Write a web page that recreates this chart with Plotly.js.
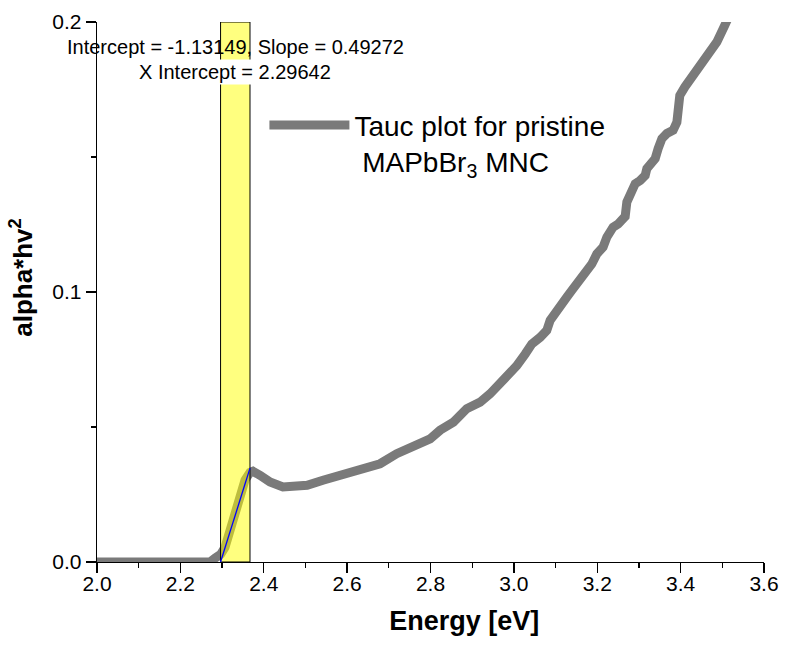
<!DOCTYPE html>
<html>
<head>
<meta charset="utf-8">
<script src="https://cdn.plot.ly/plotly-3.0.1.min.js"></script>
<style>html,body{margin:0;padding:0;background:#fff;}#chart{width:785px;height:648px;}</style>
</head>
<body>
<div id="chart"></div>
<script>
// Tauc plot data
var energy = [2.0, 2.271, 2.283, 2.297, 2.307, 2.324, 2.338, 2.355, 2.367, 2.374, 2.391, 2.415, 2.446, 2.480, 2.504, 2.542, 2.583, 2.624,
  2.679, 2.719, 2.759, 2.799, 2.823, 2.855, 2.887, 2.919, 2.943, 2.975, 2.991, 3.007, 3.027, 3.043, 3.063, 3.079, 3.087, 3.099,
  3.115, 3.127, 3.139, 3.159, 3.175, 3.187, 3.199, 3.214, 3.223, 3.238, 3.250, 3.267, 3.271, 3.279, 3.291, 3.303, 3.315, 3.319,
  3.327, 3.339, 3.346, 3.355, 3.367, 3.382, 3.391, 3.394, 3.398, 3.410, 3.427, 3.442, 3.463, 3.487, 3.506, 3.520];
var tauc = [0.0, 0.0, 0.0014, 0.0029, 0.0054, 0.0143, 0.0229, 0.0303, 0.0332, 0.0336, 0.0321, 0.0296, 0.0278, 0.0277, 0.0284, 0.0303, 0.0321, 0.0340,
  0.0364, 0.0401, 0.0432, 0.0456, 0.0488, 0.0518, 0.0568, 0.0592, 0.0623, 0.0673, 0.0707, 0.0727, 0.0770, 0.0807, 0.0832, 0.0858, 0.0895, 0.0919,
  0.0944, 0.0981, 0.1006, 0.1043, 0.1080, 0.1104, 0.1141, 0.1166, 0.1203, 0.1240, 0.1252, 0.1280, 0.1333, 0.1370, 0.1401, 0.1413, 0.1432, 0.1457,
  0.1475, 0.1494, 0.1531, 0.1568, 0.1587, 0.1599, 0.1629, 0.1679, 0.1728, 0.1759, 0.1796, 0.1827, 0.1864, 0.1926, 0.1988, 0.2035];

// Linear fit parameters and fit window
var fitIntercept = -1.13149;
var fitSlope = 0.49272;
var xIntercept = 2.29642;
var fitRange = [2.29642, 2.367];
var fitY = [fitIntercept + fitSlope * fitRange[0], fitIntercept + fitSlope * fitRange[1]];

var xTicks = [2.0, 2.2, 2.4, 2.6, 2.8, 3.0, 3.2, 3.4, 3.6];
var yTicks = [0.0, 0.1, 0.2];

var seriesName = 'Tauc plot for pristine<br>&nbsp;MAPbBr<sub>3</sub> MNC';
var fitLabel1 = 'Intercept = ' + fitIntercept + ', Slope = ' + fitSlope;
var fitLabel2 = 'X Intercept = ' + xIntercept;
var xTitle = '<b>Energy [eV]</b>';
var yTitle = '<b>alpha*hv<sup>2</sup></b>';

var FONT = 'Arial, "Liberation Sans", Helvetica, sans-serif';

var traces = [{
  x: energy, y: tauc, type: 'scatter', mode: 'lines',
  name: seriesName,
  line: {color: '#7a7a7a', width: 9},
  showlegend: true
}];

var layout = {
  width: 785, height: 648,
  margin: {l: 97, r: 21, t: 22, b: 86},
  paper_bgcolor: '#ffffff', plot_bgcolor: '#ffffff',
  font: {family: FONT, color: '#000'},
  showlegend: true,
  legend: {
    x: 0.251, y: 0.855, xanchor: 'left', yanchor: 'top',
    bgcolor: 'rgba(0,0,0,0)', borderwidth: 0,
    font: {family: FONT, size: 28, color: '#000'},
    itemwidth: 80, valign: 'top', tracegroupgap: 0
  },
  xaxis: {
    range: [2.0, 3.6], tickvals: xTicks, tickformat: '.1f',
    showline: true, linecolor: '#000', linewidth: 1.3, mirror: false,
    ticks: 'outside', ticklen: 10, tickwidth: 1.3, tickcolor: '#000',
    ticklabelstandoff: -8,
    minor: {dtick: 0.1, tick0: 2.0, ticks: 'outside', ticklen: 5, tickwidth: 1.3, tickcolor: '#000', showgrid: false},
    showgrid: false, zeroline: false,
    tickfont: {family: FONT, size: 21, color: '#000'},
    title: {text: '&nbsp;&nbsp;&nbsp;&nbsp;&nbsp;&nbsp;&nbsp;&nbsp;&nbsp;' + xTitle, font: {family: FONT, size: 27, color: '#000'}, standoff: 17}
  },
  yaxis: {
    range: [0, 0.2], tickvals: yTicks, tickformat: '.1f',
    showline: true, linecolor: '#000', linewidth: 1.3, mirror: false,
    ticks: 'outside', ticklen: 10, tickwidth: 1.3, tickcolor: '#000',
    minor: {dtick: 0.05, tick0: 0, ticks: 'outside', ticklen: 5, tickwidth: 1.3, tickcolor: '#000', showgrid: false},
    showgrid: false, zeroline: false,
    tickfont: {family: FONT, size: 21, color: '#000'},
    title: {text: '&nbsp;&nbsp;&nbsp;&nbsp;' + yTitle, font: {family: FONT, size: 26, color: '#000'}, standoff: 12}
  },
  shapes: [
    {type: 'rect', xref: 'x', yref: 'y', x0: fitRange[0], x1: fitRange[1], y0: 0, y1: 0.2,
     fillcolor: 'rgba(255,255,0,0.5)', line: {color: '#000', width: 1}, layer: 'above'},
    {type: 'line', xref: 'x', yref: 'y', x0: fitRange[0], x1: fitRange[1], y0: fitY[0], y1: fitY[1],
     line: {color: '#0000ff', width: 1.3}, layer: 'above'}
  ],
  annotations: [
    {xref: 'paper', yref: 'paper', x: 0.207, y: 0.953, xanchor: 'center', yanchor: 'middle',
     text: fitLabel1, showarrow: false, font: {family: FONT, size: 20, color: '#000'}},
    {xref: 'paper', yref: 'paper', x: 0.207, y: 0.907, xanchor: 'center', yanchor: 'middle',
     text: fitLabel2, showarrow: false, bgcolor: '#ffffff', borderpad: 1,
     font: {family: FONT, size: 20, color: '#000'}}
  ]
};

Plotly.newPlot('chart', traces, layout, {displayModeBar: false, staticPlot: true});
</script>
</body>
</html>
